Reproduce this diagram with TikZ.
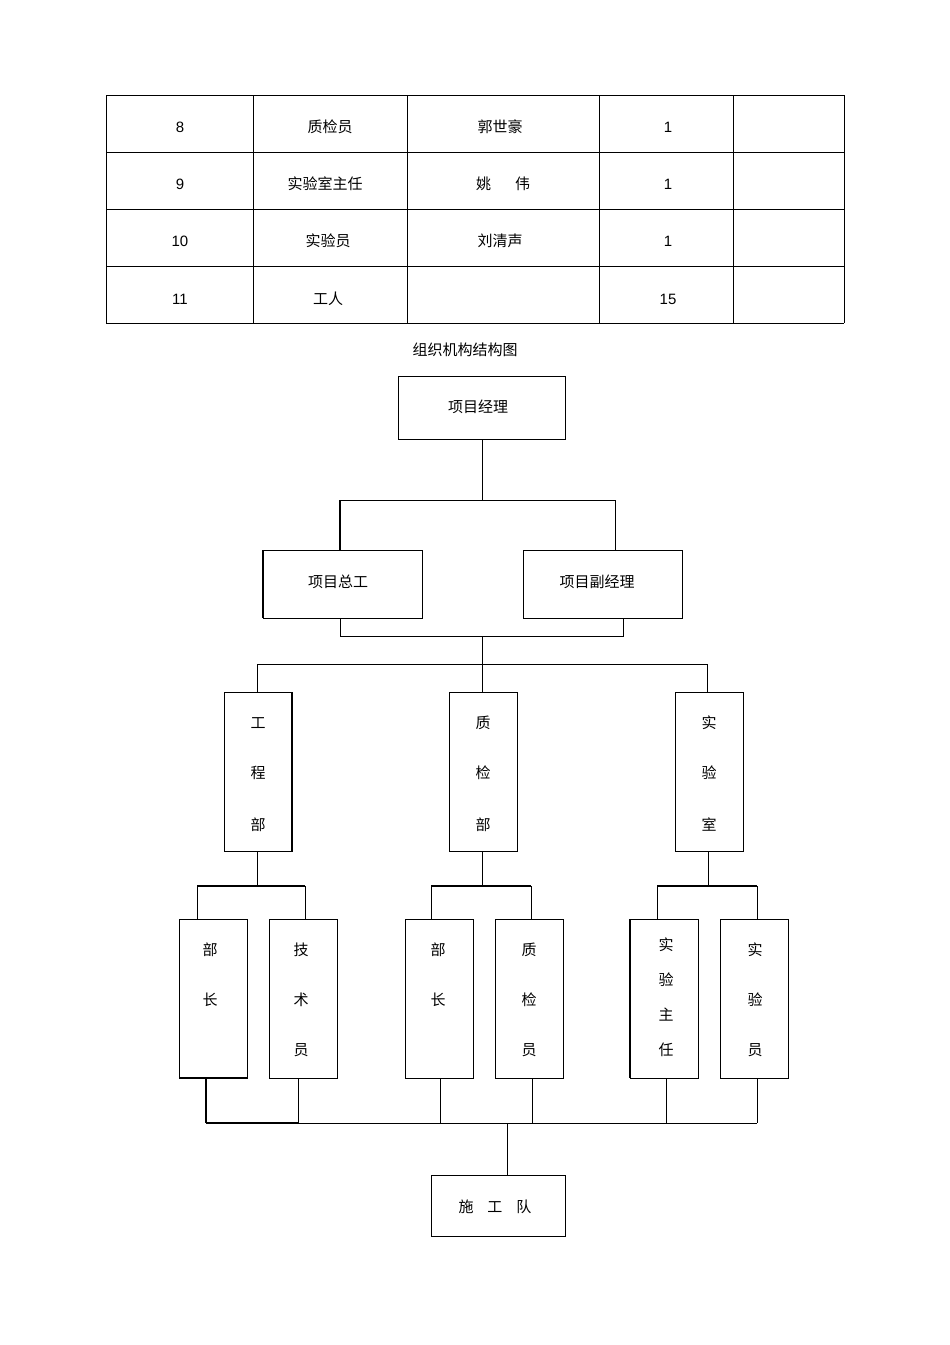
\documentclass[tikz,border=0pt]{standalone}
\usepackage{fontspec}
\setmainfont{Liberation Sans}
\newfontfamily\cjk{Noto Sans CJK SC}
\begin{document}
\begin{tikzpicture}[x=1pt,y=-1pt,
  ln/.style={line width=0.9pt},
  thk/.style={line width=2.2pt},
  bx/.style={draw,line width=0.9pt},
  t/.style={font=\cjk\fontsize{15}{15}\selectfont,inner sep=0pt},
  n/.style={font=\fontsize{15}{15}\selectfont,inner sep=0pt}]
\useasboundingbox (0,0) rectangle (950,1345);
% table
\foreach \x in {106,253,407,599,733,844} \draw[ln] (\x,95) -- (\x,323);
\foreach \y in {95,152,209,266,323} \draw[ln] (106,\y) -- (844,\y);
\node[n] (a1) at (180,127) {8}; \node[t] (b1) at (330,127) {质检员}; \node[t] (c1) at (500,127) {郭世豪}; \node[n] (d1) at (668,127) {1};
\node[n] (a2) at (180,184) {9}; \node[t] (b2) at (325,184) {实验室主任}; \node[t] (c2) at (503,184) {姚\hspace{24pt}伟}; \node[n] (d2) at (668,184) {1};
\node[n] (a3) at (180,241) {10}; \node[t] (b3) at (328,241) {实验员}; \node[t] (c3) at (500,241) {刘清声}; \node[n] (d3) at (668,241) {1};
\node[n] (a4) at (180,299) {11}; \node[t] (b4) at (328,299) {工人}; \node[n] (d4) at (668,299) {15};
\node[t] (title) at (465,350) {组织机构结构图};
% top boxes
\draw[bx] (398,376) rectangle (565,439); \node[t] (pm) at (478,407) {项目经理};
\draw[ln] (482,439) -- (482,500);
\draw[ln] (340,500) -- (615,500) -- (615,550);
\draw[thk] (340,500) -- (340,550);
\draw[bx] (263,550) rectangle (422,618); \draw[thk] (263,550) -- (263,618);
\node[t] (zg) at (338,582) {项目总工};
\draw[bx] (523,550) rectangle (682,618); \node[t] (fj) at (597,582) {项目副经理};
\draw[ln] (340,618) -- (340,636) -- (623,636) -- (623,618);
\draw[ln] (482,636) -- (482,664);
\draw[ln] (257,692) -- (257,664) -- (707,664) -- (707,692);
\draw[ln] (482,664) -- (482,692);
% departments
\foreach \cx/\a/\b/\c in {258/工/程/部,483/质/检/部,709/实/验/室}{
  \draw[bx] (\cx-34,692) rectangle (\cx+34,851);
  \node[t] at (\cx,723) {\a}; \node[t] at (\cx,773) {\b}; \node[t] at (\cx,825) {\c};
  \draw[ln] (\cx-1,851) -- (\cx-1,886);
}
\draw[thk] (292,692) -- (292,851);
\foreach \l/\r in {197/305,431/531,657/757}{
  \draw[thk] (\l,886) -- (\r,886);
  \draw[ln] (\l,886) -- (\l,919); \draw[ln] (\r,886) -- (\r,919);
}
% lower boxes
\foreach \x in {179,269,405,495,630,720} \draw[bx] (\x,919) rectangle (\x+68,1078);
\draw[thk] (179,1078) -- (247,1078);
\draw[thk] (630,919) -- (630,1078);
\node[t] at (210,950) {部}; \node[t] at (210,1000) {长};
\node[t] at (301,950) {技}; \node[t] at (301,1000) {术}; \node[t] at (301,1050) {员};
\node[t] at (438,950) {部}; \node[t] at (438,1000) {长};
\node[t] at (529,950) {质}; \node[t] at (529,1000) {检}; \node[t] at (529,1050) {员};
\node[t] at (666,945) {实}; \node[t] at (666,980) {验}; \node[t] at (666,1015) {主}; \node[t] at (666,1050) {任};
\node[t] at (755,950) {实}; \node[t] at (755,1000) {验}; \node[t] at (755,1050) {员};
% bottom
\draw[thk] (206,1078) -- (206,1123);
\foreach \x in {298,440,532,666,757} \draw[ln] (\x,1078) -- (\x,1123);
\draw[ln] (206,1123) -- (757,1123);
\draw[thk] (206,1123) -- (298,1123);
\draw[ln] (507,1123) -- (507,1175);
\draw[bx] (431,1175) rectangle (565,1236);
\node[t] (sg) at (495,1207) {施\hspace{14pt}工\hspace{14pt}队};
\end{tikzpicture}
\end{document}
